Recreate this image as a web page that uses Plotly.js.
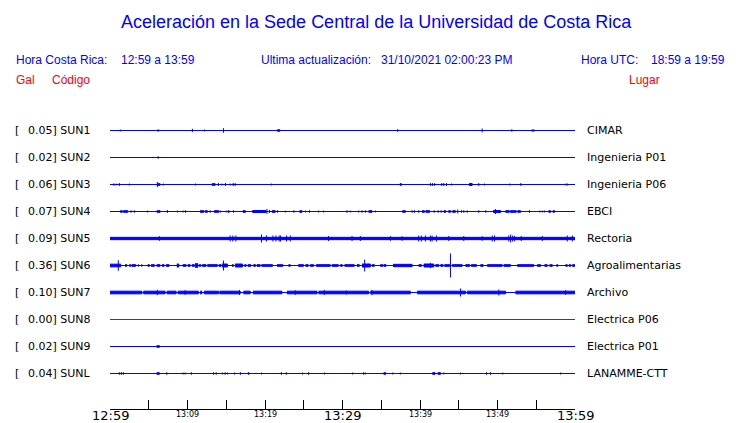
<!DOCTYPE html>
<html><head><meta charset="utf-8">
<script src="https://cdn.plot.ly/plotly-3.0.1.min.js"></script>
<style>html,body{margin:0;padding:0;background:#fff}#chart{width:740px;height:423px}</style>
</head><body><div id="chart"></div>
<script>
// ---------- data (minutes after 12:59, amplitude in gal) ----------
const codes  = ["SUN1","SUN2","SUN3","SUN4","SUN5","SUN6","SUN7","SUN8","SUN9","SUNL"];
const places = ["CIMAR","Ingenieria P01","Ingenieria P06","EBCI","Rectoria","Agroalimentarias","Archivo","Electrica P06","Electrica P01","LANAMME-CTT"];
const galMax = ["0.05","0.02","0.06","0.07","0.09","0.36","0.10","0.00","0.02","0.04"];
const tickMinutes = [0,5,10,15,20,25,30,35,40,45,50,55,60];
const bigTickMin = [0,30,60];
const bigTickText = ["12:59","13:29","13:59"];
const smallTickMin = [10,20,40,50];
const smallTickText = ["13:09","13:19","13:39","13:49"];

// bursts: [start, end, amplitude]; spikes: [time, amplitude]
const sun1Bursts = [[6.10,6.35,0.03],[21.60,21.90,0.04]];
const sun1Spikes = [[1.33,0.03],[10.63,0.05],[12.18,0.03],[14.64,0.07],[37.12,0.04],[48.02,0.06],[51.85,0.04],[54.48,0.04],[54.69,0.04]];

const sun2Bursts = [[6.12,6.33,0.03]];
const sun2Spikes = [];

const sun3Bursts = [[0.39,0.56,0.03],[6.11,6.46,0.04],[13.14,13.57,0.04],[37.40,37.60,0.04],[46.34,46.73,0.045]];
const sun3Spikes = [[0.78,0.03],[1.20,0.045],[2.49,0.03],[6.11,0.075],[6.89,0.03],[11.02,0.03],[13.99,0.045],[14.43,0.03],[14.90,0.045],[15.50,0.03],[15.89,0.045],[16.15,0.045],[20.80,0.03],[41.34,0.045],[41.60,0.045],[41.90,0.045],[42.80,0.045],[43.06,0.045],[43.41,0.045],[44.06,0.03],[47.58,0.045],[48.32,0.03],[51.59,0.03],[53.01,0.045],[58.82,0.03],[59.04,0.03]];

const sun4Bursts = [[1.33,1.59,0.04],[1.72,2.29,0.04],[6.03,6.46,0.04],[11.63,12.11,0.04],[12.27,12.57,0.04],[13.44,14.04,0.04],[15.21,15.37,0.04],[17.14,17.48,0.04],[18.38,20.12,0.045],[20.89,21.32,0.04],[24.46,24.77,0.04],[33.37,33.81,0.04],[37.73,38.11,0.04],[40.27,40.57,0.04],[40.74,41.25,0.04],[43.06,43.32,0.04],[43.67,43.93,0.04],[44.19,44.57,0.04],[49.44,50.39,0.045],[51.03,51.51,0.04],[51.64,52.42,0.04],[52.58,52.97,0.04],[56.59,56.85,0.04],[57.14,57.36,0.04]];
const sun4Spikes = [[2.71,0.04],[3.14,0.04],[4.82,0.03],[7.40,0.045],[8.70,0.03],[9.43,0.03],[9.73,0.04],[12.92,0.04],[14.25,0.03],[14.99,0.03],[15.93,0.04],[20.25,0.075],[20.58,0.045],[21.61,0.04],[22.61,0.03],[23.73,0.04],[25.23,0.03],[25.75,0.04],[26.91,0.03],[27.56,0.03],[30.58,0.04],[31.01,0.03],[32.08,0.03],[32.52,0.04],[32.95,0.04],[34.24,0.03],[38.98,0.04],[39.28,0.04],[39.83,0.04],[41.82,0.04],[42.34,0.04],[42.73,0.04],[44.87,0.06],[45.35,0.04],[45.65,0.04],[46.09,0.04],[47.58,0.04],[48.49,0.04],[49.74,0.075],[54.13,0.04],[55.47,0.03],[55.78,0.03],[56.07,0.03]];

const sun5Bursts = [[0,60,0.05]];
const sun5Spikes = [[6.37,0.07],[15.50,0.09],[15.85,0.09],[16.24,0.09],[19.55,0.12],[20.19,0.09],[21.02,0.09],[21.41,0.09],[21.83,0.09],[22.00,0.09],[22.78,0.09],[23.26,0.09],[28.20,0.075],[31.23,0.075],[32.30,0.075],[36.18,0.07],[37.69,0.07],[39.83,0.09],[40.18,0.09],[40.70,0.09],[41.34,0.09],[41.56,0.09],[42.12,0.09],[43.71,0.075],[45.65,0.075],[48.02,0.07],[49.32,0.09],[49.61,0.09],[51.46,0.09],[51.70,0.12],[51.95,0.09],[52.20,0.08],[53.06,0.075],[55.78,0.075],[59.00,0.09],[59.65,0.09]];

const sun6Bursts = [[0,1.38,0.055],[1.94,2.16,0.04],[2.49,2.67,0.04],[2.80,3.32,0.04],[4.87,5.08,0.04],[5.30,5.72,0.04],[6.03,6.46,0.04],[6.72,6.98,0.04],[7.24,7.62,0.04],[8.62,8.88,0.06],[9.39,9.82,0.04],[10.04,10.34,0.04],[10.59,10.89,0.04],[10.98,11.33,0.07],[11.50,11.72,0.04],[11.89,12.40,0.04],[12.57,13.86,0.04],[14.04,14.34,0.04],[14.47,15.15,0.06],[15.76,15.93,0.04],[16.15,17.09,0.06],[17.35,17.57,0.04],[17.79,18.18,0.04],[18.51,18.77,0.04],[18.95,19.38,0.04],[19.55,20.97,0.04],[21.54,22.31,0.04],[23.04,23.26,0.04],[24.29,24.97,0.04],[25.23,25.58,0.04],[25.84,26.27,0.04],[26.61,28.42,0.04],[28.64,29.46,0.04],[29.72,29.97,0.04],[30.27,31.52,0.04],[31.87,32.17,0.04],[32.52,33.59,0.06],[33.81,34.11,0.04],[34.88,35.18,0.04],[35.31,35.62,0.04],[36.52,38.98,0.05],[39.83,40.18,0.04],[40.48,41.77,0.06],[41.99,42.42,0.04],[42.64,42.98,0.04],[43.15,43.84,0.04],[44.15,45.44,0.04],[45.87,46.42,0.04],[46.60,47.29,0.04],[47.80,48.15,0.04],[48.67,50.61,0.04],[50.81,51.68,0.04],[52.55,54.69,0.04],[55.13,55.56,0.04],[56.07,56.42,0.04],[56.72,57.07,0.04],[57.62,57.79,0.04],[58.79,59.00,0.04],[59.21,59.43,0.04],[59.65,59.99,0.04]];
const sun6Spikes = [[1.07,0.16],[3.66,0.04],[4.10,0.04],[14.64,0.15],[32.86,0.18],[41.34,0.08],[43.93,0.36]];

const sun7Bursts = [[0,4.10,0.055],[4.30,7.11,0.055],[7.33,8.53,0.055],[8.75,11.41,0.055],[11.63,11.85,0.055],[12.14,13.99,0.055],[14.12,16.80,0.055],[17.22,18.09,0.055],[18.44,22.18,0.055],[22.83,26.71,0.055],[26.91,33.37,0.055],[33.59,38.76,0.055],[39.63,45.87,0.055],[46.08,51.03,0.055],[52.33,60,0.055]];
const sun7Spikes = [[6.11,0.08],[9.69,0.07],[16.71,0.075],[23.90,0.07],[27.65,0.075],[30.49,0.06],[33.81,0.08],[45.22,0.12],[50.17,0.09],[58.79,0.07]];

const sun8Bursts = [];
const sun8Spikes = [];

const sun9Bursts = [[6.03,6.37,0.04]];
const sun9Spikes = [];

const sunlBursts = [[6.03,6.37,0.04],[17.79,17.92,0.04],[35.31,35.57,0.04],[41.60,41.95,0.04],[42.29,42.64,0.04]];
const sunlSpikes = [[1.20,0.04],[1.46,0.04],[1.72,0.04],[7.33,0.04],[9.43,0.03],[9.69,0.03],[10.50,0.04],[13.35,0.04],[13.70,0.04],[14.51,0.03],[14.86,0.04],[15.16,0.03],[16.06,0.03],[16.83,0.04],[19.55,0.03],[22.13,0.04],[22.74,0.04],[24.84,0.03],[25.62,0.04],[27.69,0.03],[31.30,0.03],[32.73,0.04],[32.95,0.03],[36.47,0.03],[37.47,0.03],[43.06,0.03],[45.22,0.03],[48.58,0.04],[49.10,0.04],[50.68,0.03],[58.14,0.03]];

const allBursts = [sun1Bursts,sun2Bursts,sun3Bursts,sun4Bursts,sun5Bursts,sun6Bursts,sun7Bursts,sun8Bursts,sun9Bursts,sunlBursts];
const allSpikes = [sun1Spikes,sun2Spikes,sun3Spikes,sun4Spikes,sun5Spikes,sun6Spikes,sun7Spikes,sun8Spikes,sun9Spikes,sunlSpikes];

// ---------- drawing ----------
const BLUE = "#0000ff", RED = "#ff0000";
const GAIN = 1.233;            // row spacing units per gal
const STROKE = 0.5 / 27;       // half outline width in row units
const traces = [];
codes.forEach((c, i) => {
  const color = (galMax[i] === "0.00") ? "#e00000" : BLUE;
  traces.push({x:[0,60], y:[i,i], mode:"lines", line:{color, width:1}, hoverinfo:"skip", showlegend:false});
  const x = [], y = [];
  allBursts[i].forEach(([t0,t1,a]) => { const d=Math.max(a*GAIN-STROKE, 0.01); x.push(t0,t1,t1,t0,null); y.push(i-d,i-d,i+d,i+d,null); });
  allSpikes[i].forEach(([t,a]) => { const d=a*GAIN; x.push(t,t,null); y.push(i-d,i+d,null); });
  if (x.length) traces.push({x, y, mode:"lines", fill:"toself", fillcolor:color, line:{color, width:1}, connectgaps:false, hoverinfo:"skip", showlegend:false});
});

const L = 110, R = 575, T = 103, B = 409;
const px = v => (v - L) / (R - L);
const py = v => (B - v) / (B - T);
const ann = [];
const hdr = {family:"Liberation Sans, Arial, sans-serif", size:12, color:BLUE};
const lab = {family:"DejaVu Sans, sans-serif", size:11, color:"#000"};
function A(text, x, y, font, xanchor) {
  ann.push({text, x:px(x), y:py(y), xref:"paper", yref:"paper", showarrow:false, xanchor:xanchor||"left", yanchor:"middle", font, borderpad:0});
}
A("Aceleración en la Sede Central de la Universidad de Costa Rica", 376, 22, {family:"Liberation Sans, Arial, sans-serif", size:18, color:BLUE}, "center");
A("Hora Costa Rica:", 15, 60, hdr); A("12:59 a 13:59", 120, 60, hdr);
A("Ultima actualización:", 260, 60, hdr); A("31/10/2021 02:00:23 PM", 380, 60, hdr);
A("Hora UTC:", 580, 60, hdr); A("18:59 a 19:59", 650, 60, hdr);
const redF = {family:"Liberation Sans, Arial, sans-serif", size:12, color:RED};
A("Gal", 15, 80, redF); A("Código", 51, 80, redF); A("Lugar", 628, 80, redF);

codes.forEach((c, i) => {
  ann.push({text:"[", x:px(14), y:i, xref:"paper", yref:"y", showarrow:false, xanchor:"left", yanchor:"middle", font:lab, borderpad:0});
  ann.push({text:galMax[i] + "] " + c, x:px(27), y:i, xref:"paper", yref:"y", showarrow:false, xanchor:"left", yanchor:"middle", font:lab, borderpad:0});
  ann.push({text:places[i], x:px(586), y:i, xref:"paper", yref:"y", showarrow:false, xanchor:"left", yanchor:"middle", font:lab, borderpad:0});
});
bigTickMin.forEach((m, k) => ann.push({text:bigTickText[k], x:m, y:py(415), xref:"x", yref:"paper", showarrow:false, xanchor:"center", yanchor:"middle", font:{family:"DejaVu Sans, sans-serif", size:13, color:"#000"}, borderpad:0}));
smallTickMin.forEach((m, k) => ann.push({text:smallTickText[k], x:m, y:py(414), xref:"x", yref:"paper", showarrow:false, xanchor:"center", yanchor:"middle", font:{family:"DejaVu Sans, sans-serif", size:8, color:"#000"}, borderpad:0}));

const layout = {
  width:740, height:423, paper_bgcolor:"#fff", plot_bgcolor:"#fff",
  margin:{l:L, r:740-R, t:T, b:423-B, pad:0},
  xaxis:{range:[0,60], showgrid:false, zeroline:false, showline:true, linecolor:"#000", linewidth:1,
         ticks:"inside", ticklen:9, tickcolor:"#000", tickwidth:1, tickvals:tickMinutes, showticklabels:false, fixedrange:true},
  yaxis:{range:[10.3333-0.0185, -1.0185], showgrid:false, zeroline:false, showline:false, showticklabels:false, ticks:"", fixedrange:true},
  annotations: ann, showlegend:false
};
Plotly.newPlot("chart", traces, layout, {displayModeBar:false, staticPlot:true});
</script></body></html>
